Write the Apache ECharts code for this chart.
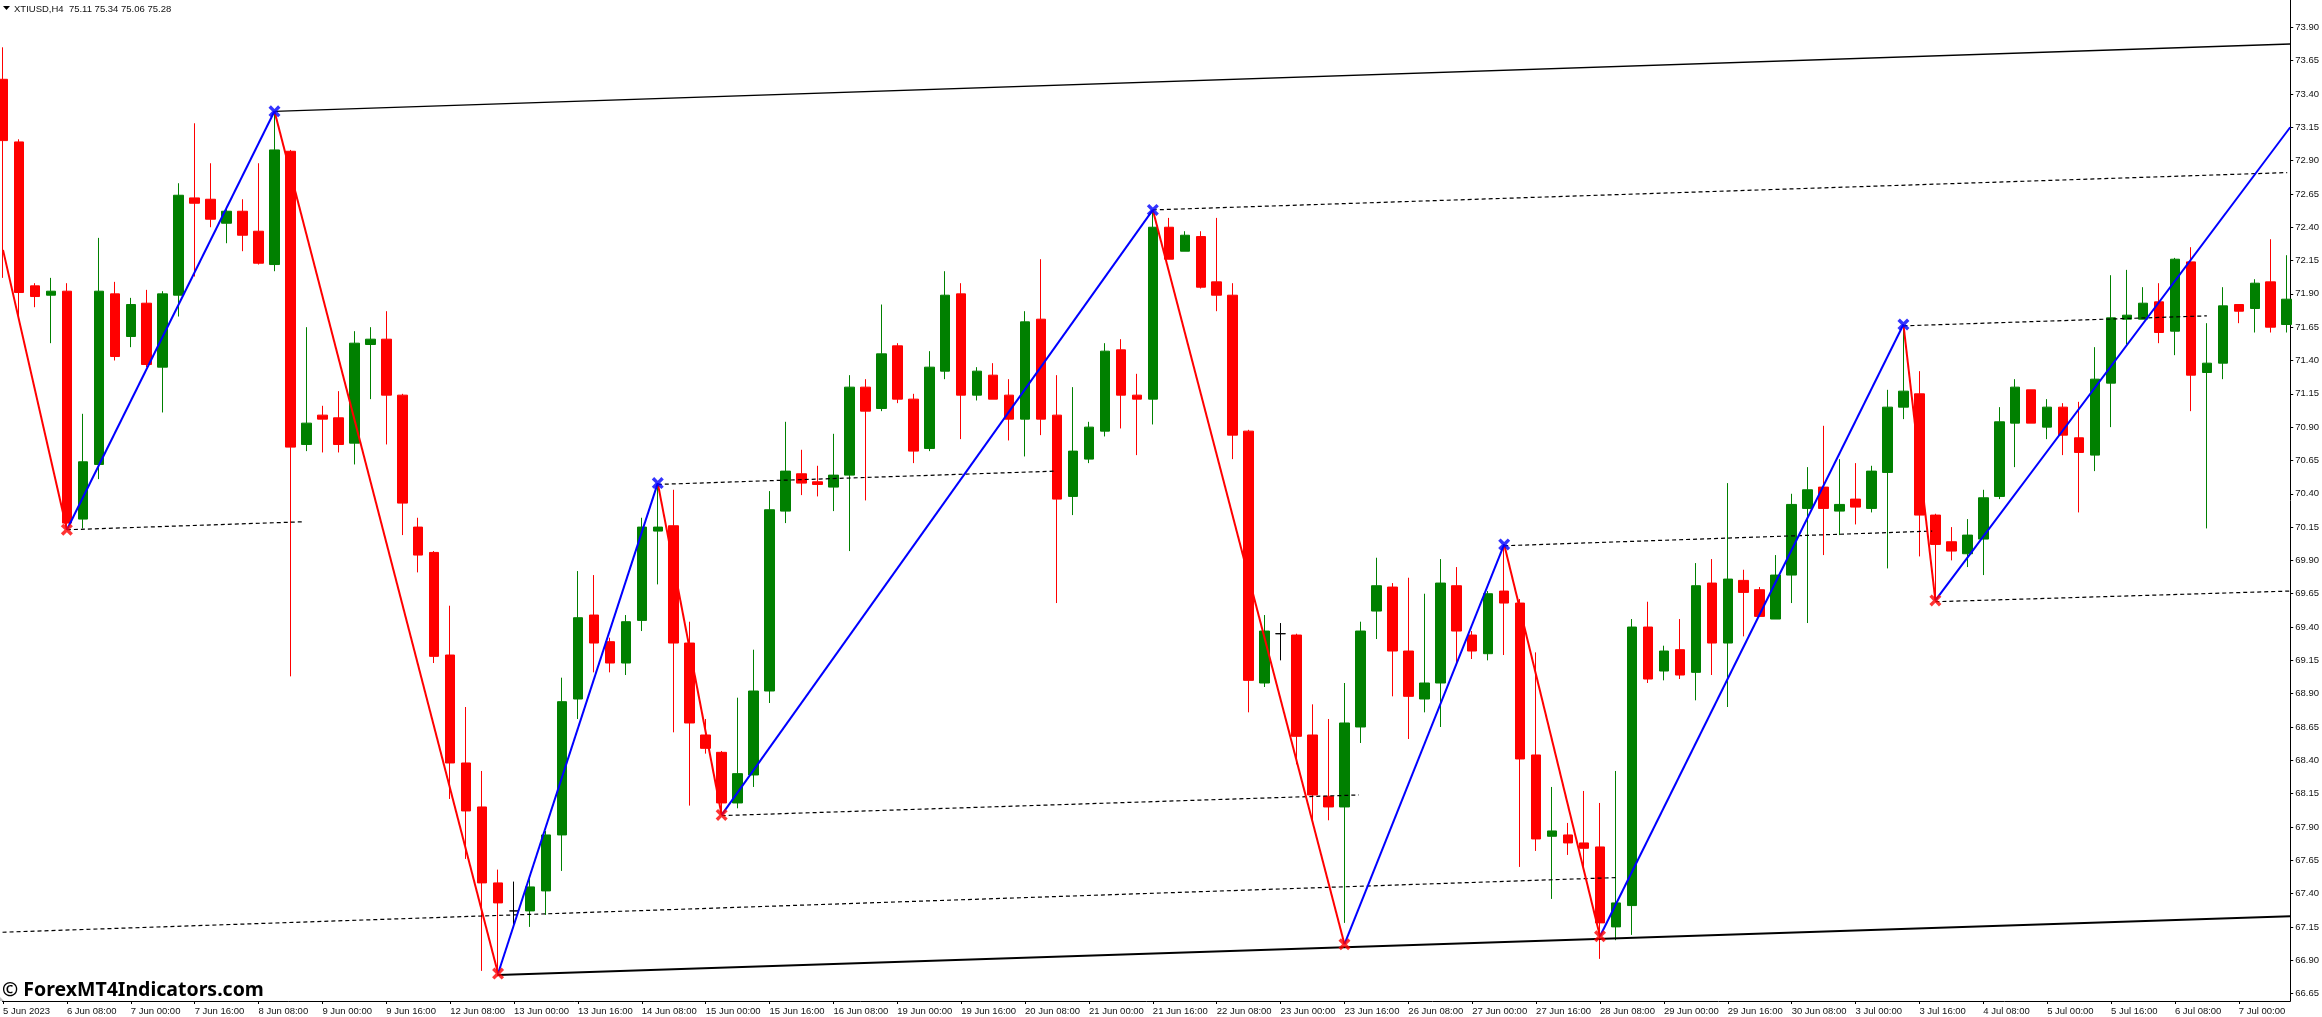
<!DOCTYPE html>
<html>
<head>
<meta charset="utf-8">
<title>XTIUSD,H4</title>
<style>
  html, body { margin: 0; padding: 0; background: #fff; }
  #main { width: 2322px; height: 1017px; }
</style>
<script src="https://cdn.jsdelivr.net/npm/echarts@6/dist/echarts.min.js"></script>
</head>
<body>
<div id="main"></div>
<script>
// H4 bars, one value per bar
const opens = [
  73.51, 73.04, 71.96, 71.89, 71.92, 70.21, 70.62, 71.90, 71.58, 71.83,
  71.35, 71.89, 72.62, 72.61, 72.43, 72.52, 72.37, 72.12, 72.97, 70.77,
  70.99, 70.97, 70.78, 71.52, 71.56, 71.14, 70.15, 69.96, 69.19, 68.38,
  68.05, 67.48, 67.27, 67.27, 67.42, 67.84, 68.86, 69.49, 69.29, 69.13,
  69.45, 70.12, 70.16, 69.28, 68.59, 68.46, 68.08, 68.29, 68.92, 70.27,
  70.55, 70.49, 70.45, 70.54, 71.20, 71.04, 71.51, 71.11, 70.74, 71.32,
  71.90, 71.14, 71.29, 71.14, 70.96, 71.71, 70.99, 70.38, 70.66, 70.87,
  71.48, 71.14, 71.11, 72.40, 72.22, 72.33, 71.99, 71.89, 70.87, 68.98,
  69.35, 69.34, 68.59, 68.13, 68.05, 68.65, 69.52, 69.70, 69.22, 68.86,
  68.98, 69.71, 69.34, 69.20, 69.67, 69.58, 68.44, 67.83, 67.84, 67.78,
  67.75, 67.15, 67.31, 69.40, 69.07, 69.23, 69.06, 69.73, 69.28, 69.75,
  69.68, 69.46, 69.79, 70.29, 70.45, 70.27, 70.36, 70.29, 70.56, 71.05,
  71.15, 70.24, 70.04, 69.95, 70.06, 70.38, 70.93, 71.18, 70.90, 71.05,
  70.82, 70.69, 71.23, 71.71, 71.71, 71.84, 71.62, 72.14, 71.31, 71.38,
  71.82, 71.79, 71.99, 71.67,
]
const highs = [
  73.75, 73.06, 71.98, 72.02, 71.98, 71.00, 72.32, 71.99, 71.87, 71.93,
  71.92, 72.73, 73.18, 72.88, 72.54, 72.61, 72.88, 73.27, 72.98, 71.65,
  71.06, 71.17, 71.62, 71.65, 71.77, 71.15, 70.22, 69.97, 69.56, 68.80,
  68.32, 67.58, 67.49, 67.53, 67.87, 69.02, 69.82, 69.79, 69.32, 69.49,
  70.22, 70.48, 70.43, 69.44, 68.71, 68.47, 68.87, 69.23, 70.42, 70.94,
  70.73, 70.61, 70.85, 71.29, 71.26, 71.82, 71.53, 71.15, 71.47, 72.07,
  71.98, 71.35, 71.38, 71.26, 71.77, 72.16, 71.29, 71.20, 70.94, 71.53,
  71.56, 71.30, 72.53, 72.47, 72.37, 72.37, 72.47, 71.98, 70.88, 69.49,
  69.43, 69.35, 68.82, 68.71, 68.98, 69.44, 69.92, 69.73, 69.77, 69.65,
  69.91, 69.85, 69.37, 69.67, 70.01, 69.61, 69.21, 68.20, 67.93, 68.17,
  68.08, 68.32, 69.46, 69.59, 69.26, 69.46, 69.88, 69.91, 70.48, 69.83,
  69.70, 69.94, 70.40, 70.60, 70.91, 70.66, 70.63, 70.61, 71.18, 71.67,
  71.32, 70.25, 70.15, 70.21, 70.43, 71.05, 71.26, 71.18, 71.11, 71.08,
  71.09, 71.50, 72.04, 72.08, 71.95, 71.98, 72.17, 72.25, 71.68, 71.95,
  71.82, 72.01, 72.31, 72.19,
]
const lows = [
  72.02, 71.72, 71.80, 71.53, 70.13, 70.14, 70.51, 71.40, 71.50, 71.35,
  71.01, 71.73, 72.03, 72.40, 72.28, 72.22, 72.12, 72.07, 69.03, 70.72,
  70.71, 70.71, 70.62, 71.11, 70.77, 70.09, 69.81, 69.13, 68.11, 67.66,
  66.82, 66.78, 67.17, 67.15, 67.24, 67.57, 68.71, 69.06, 69.06, 69.04,
  69.37, 69.72, 68.61, 68.06, 68.45, 67.99, 68.04, 68.20, 68.83, 70.18,
  70.39, 70.38, 70.27, 69.97, 70.35, 71.02, 71.08, 70.63, 70.72, 71.26,
  70.81, 71.10, 71.11, 70.80, 70.68, 70.84, 69.58, 70.24, 70.63, 70.83,
  70.89, 70.69, 70.92, 72.16, 72.22, 71.94, 71.77, 70.66, 68.76, 68.95,
  69.15, 68.37, 67.93, 67.95, 67.18, 68.53, 69.31, 68.88, 68.56, 68.76,
  68.65, 69.12, 69.16, 69.15, 69.19, 67.60, 67.72, 67.36, 67.69, 67.60,
  66.91, 67.05, 67.09, 68.98, 69.00, 69.01, 68.85, 69.04, 68.80, 69.33,
  69.48, 69.46, 69.58, 69.43, 69.94, 70.09, 70.17, 70.26, 69.84, 70.96,
  69.93, 69.60, 69.90, 69.85, 69.79, 70.36, 70.60, 70.93, 70.81, 70.69,
  70.26, 70.57, 70.90, 71.52, 71.71, 71.53, 71.44, 71.02, 70.14, 71.26,
  71.68, 71.61, 71.61, 71.61,
]
const closes = [
  73.05, 71.91, 71.88, 71.92, 70.18, 70.64, 71.92, 71.43, 71.82, 71.37,
  71.90, 72.64, 72.58, 72.46, 72.52, 72.34, 72.13, 72.98, 70.75, 70.93,
  70.96, 70.77, 71.53, 71.56, 71.14, 70.33, 69.94, 69.18, 68.38, 68.02,
  67.48, 67.33, 67.27, 67.45, 67.84, 68.84, 69.47, 69.28, 69.13, 69.44,
  70.15, 70.15, 69.28, 68.68, 68.49, 68.08, 68.30, 68.92, 70.28, 70.57,
  70.48, 70.47, 70.54, 71.20, 71.02, 71.45, 71.11, 70.72, 71.35, 71.89,
  71.14, 71.32, 71.11, 70.96, 71.69, 70.96, 70.36, 70.72, 70.90, 71.47,
  71.14, 71.11, 72.40, 72.16, 72.34, 71.95, 71.89, 70.84, 69.00, 69.37,
  69.35, 68.58, 68.14, 68.05, 68.68, 69.37, 69.71, 69.22, 68.88, 68.98,
  69.73, 69.37, 69.22, 69.65, 69.58, 68.41, 67.81, 67.87, 67.78, 67.74,
  67.18, 67.33, 69.40, 69.01, 69.22, 69.04, 69.71, 69.28, 69.76, 69.66,
  69.48, 69.79, 70.32, 70.43, 70.29, 70.32, 70.30, 70.57, 71.05, 71.17,
  70.24, 70.02, 69.97, 70.09, 70.37, 70.94, 71.20, 70.93, 71.05, 70.84,
  70.71, 71.26, 71.72, 71.74, 71.83, 71.61, 72.16, 71.29, 71.38, 71.81,
  71.77, 71.98, 71.65, 71.86,
]

// one label every 4 bars
const dateLabels = [
  '5 Jun 2023', '6 Jun 08:00', '7 Jun 00:00', '7 Jun 16:00', '8 Jun 08:00', '9 Jun 00:00',
  '9 Jun 16:00', '12 Jun 08:00', '13 Jun 00:00', '13 Jun 16:00', '14 Jun 08:00', '15 Jun 00:00',
  '15 Jun 16:00', '16 Jun 08:00', '19 Jun 00:00', '19 Jun 16:00', '20 Jun 08:00', '21 Jun 00:00',
  '21 Jun 16:00', '22 Jun 08:00', '23 Jun 00:00', '23 Jun 16:00', '26 Jun 08:00', '27 Jun 00:00',
  '27 Jun 16:00', '28 Jun 08:00', '29 Jun 00:00', '29 Jun 16:00', '30 Jun 08:00', '3 Jul 00:00',
  '3 Jul 16:00', '4 Jul 08:00', '5 Jul 00:00', '5 Jul 16:00', '6 Jul 08:00', '7 Jul 00:00',
]
const priceTicks = [
  66.65, 66.90, 67.15, 67.40, 67.65, 67.90, 68.15, 68.40, 68.65, 68.90,
  69.15, 69.40, 69.65, 69.90, 70.15, 70.40, 70.65, 70.90, 71.15, 71.40,
  71.65, 71.90, 72.15, 72.40, 72.65, 72.90, 73.15, 73.40, 73.65, 73.90,
]

// zigzag turning points, [bar, price]
const zigzagDown1 = [[0, 72.23], [4, 70.13]]
const zigzagUp1 = [[4, 70.13], [17, 73.27]]
const zigzagDown2 = [[17, 73.27], [31, 66.80]]
const zigzagUp2 = [[31, 66.80], [41, 70.48]]
const zigzagDown3 = [[41, 70.48], [45, 67.99]]
const zigzagUp3 = [[45, 67.99], [72, 72.53]]
const zigzagDown4 = [[72, 72.53], [84, 67.02]]
const zigzagUp4 = [[84, 67.02], [94, 70.02]]
const zigzagDown5 = [[94, 70.02], [100, 67.08]]
const zigzagUp5 = [[100, 67.08], [119, 71.67]]
const zigzagDown6 = [[119, 71.67], [121, 69.60]]
const zigzagUp6 = [[121, 69.60], [143.22, 73.15]]
const swingHighs = [[17, 73.27], [41, 70.48], [72, 72.53], [94, 70.02], [119, 71.67]]
const swingLows = [[4, 70.13], [31, 66.80], [45, 67.99], [84, 67.02], [100, 67.08], [121, 69.60]]

// channel and its inner levels
const upperChannel = [[17, 73.27], [143.22, 73.775]]
const lowerChannel = [[31, 66.79], [143.22, 67.23]]
const dottedLevels = [
  [[4, 70.13], [18.82, 70.19]],
  [[41, 70.47], [65.9, 70.57]],
  [[72, 72.53], [143.03, 72.81]],
  [[45, 67.985], [84.9, 68.14]],
  [[-0.03, 67.11], [101, 67.52]],
  [[94, 70.01], [120.8, 70.12]],
  [[119, 71.66], [138, 71.735]],
  [[121, 69.59], [143.22, 69.67]],
]

const GREEN = '#008000'
const RED = '#ff0000'
const BLUE = '#0000ff'
const CROSS = 'path://M0 2L2 0L5 3L8 0L10 2L7 5L10 8L8 10L5 7L2 10L0 8L3 5Z'
const AXIS_FONT = { fontFamily: 'Liberation Sans', fontSize: 9.5, color: '#111' }

function lineSeries(data, color, width, type) {
  return {
    type: 'line',
    data: data,
    symbol: 'none',
    silent: true,
    z: 3,
    lineStyle: { color: color, width: width, type: type || 'solid' },
  }
}

let candles = opens.map((o, i) => [i, o, closes[i], lows[i], highs[i]])

let series = [
  {
    type: 'candlestick',
    data: candles,
    barWidth: 10,
    z: 2,
    itemStyle: {
      color: GREEN,
      color0: RED,
      borderColor: GREEN,
      borderColor0: RED,
      borderColorDoji: '#000000',
      borderWidth: 1,
    },
  },
]
dottedLevels.forEach((d) => series.push(lineSeries(d, '#000000', 1.2, [4, 3])))
series.push(lineSeries(upperChannel, '#000000', 1.3))
series.push(lineSeries(lowerChannel, '#000000', 2))
;[zigzagDown1, zigzagDown2, zigzagDown3, zigzagDown4, zigzagDown5, zigzagDown6].forEach((d) => series.push(lineSeries(d, RED, 2)))
;[zigzagUp1, zigzagUp2, zigzagUp3, zigzagUp4, zigzagUp5, zigzagUp6].forEach((d) => series.push(lineSeries(d, BLUE, 2)))
series.push({ type: 'scatter', data: swingHighs, symbol: CROSS, symbolSize: 12, z: 4, itemStyle: { color: BLUE } })
series.push({ type: 'scatter', data: swingLows, symbol: CROSS, symbolSize: 12, z: 4, itemStyle: { color: RED } })

let myChart = echarts.init(document.getElementById('main'))
myChart.setOption({
  animation: false,
  backgroundColor: '#ffffff',
  grid: { left: 0, right: 30, top: 0, bottom: 16 },
  title: {
    text: 'XTIUSD,H4  75.11 75.34 75.06 75.28',
    left: 14,
    top: 4,
    padding: 0,
    textStyle: { fontFamily: 'Liberation Sans', fontSize: 9.5, fontWeight: 'normal', color: '#111' },
  },
  xAxis: {
    type: 'value',
    min: -0.03125,
    max: 143.22,
    splitLine: { show: false },
    axisLine: { onZero: false, lineStyle: { color: '#000', width: 1 } },
    axisTick: {
      length: 3,
      lineStyle: { color: '#000' },
      customValues: dateLabels.map((d, i) => i * 4),
    },
    axisLabel: Object.assign({}, AXIS_FONT, {
      customValues: dateLabels.map((d, i) => i * 4),
      formatter: (v) => dateLabels[Math.round(v / 4)],
      align: 'left',
      margin: 5,
    }),
  },
  yAxis: {
    type: 'value',
    position: 'right',
    min: 66.594,
    max: 74.105,
    splitLine: { show: false },
    axisLine: { show: true, onZero: false, lineStyle: { color: '#000', width: 1 } },
    axisTick: { show: true, length: 3, lineStyle: { color: '#000' }, customValues: priceTicks },
    axisLabel: Object.assign({}, AXIS_FONT, {
      customValues: priceTicks,
      formatter: (v) => v.toFixed(2),
      margin: 5,
    }),
  },
  graphic: [
    { type: 'polygon', shape: { points: [[3, 6], [10, 6], [6.5, 10]] }, style: { fill: '#000' } },
    { type: 'polygon', shape: { points: [[0, 997], [4, 1001], [0, 1001]] }, style: { fill: '#c0c0c0' } },
    {
      type: 'text',
      left: 2,
      top: 980,
      style: {
        text: '© ForexMT4Indicators.com',
        fontFamily: 'Noto Sans',
        fontWeight: 'bold',
        fontSize: 19.5,
        fill: '#000',
      },
    },
  ],
  series: series,
})
</script>
</body>
</html>
